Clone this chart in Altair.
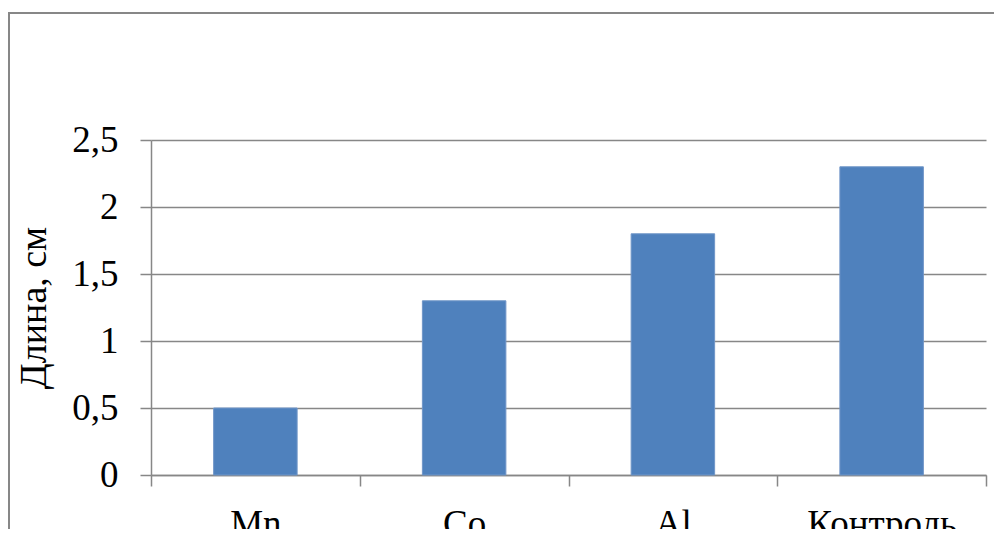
import altair as alt
import pandas as pd

categories = ["Mn", "Co", "Al", "Контроль"]
values = [0.5, 1.3, 1.8, 2.3]
y_ticks = [0, 0.5, 1, 1.5, 2, 2.5]

df = pd.DataFrame({"cat": categories, "val": values})
GRAY = "#878787"
FONT = "Liberation Serif"

frame = alt.Chart(pd.DataFrame({"a": [0]})).mark_rect(
    fill="white", fillOpacity=0, stroke=GRAY, strokeWidth=2
).encode(
    x=alt.value(-142), x2=alt.value(900), y=alt.value(-127), y2=alt.value(450)
)

bars = alt.Chart(df).mark_bar(
    color="#4F81BD", stroke="#7096c8", strokeWidth=1, width=alt.RelativeBandSize(0.4)
).encode(
    x=alt.X(
        "cat:N", sort=categories, title=None,
        scale=alt.Scale(paddingInner=0, paddingOuter=0),
        axis=alt.Axis(
            labelAngle=0, tickBand="extent", tickSize=11, tickColor=GRAY, tickWidth=1.5,
            domainColor=GRAY, domainWidth=1.5, labelFont=FONT, labelFontSize=37,
            labelColor="black", labelPadding=20, grid=False,
        ),
    ),
    y=alt.Y(
        "val:Q", title="Длина, см",
        scale=alt.Scale(domain=[0, 2.5], nice=False),
        axis=alt.Axis(
            values=y_ticks, labelExpr="replace(toString(datum.value), '.', ',')",
            tickSize=11, tickColor=GRAY, tickWidth=1.5, domainColor=GRAY, domainWidth=1.5,
            grid=True, gridColor=GRAY, gridWidth=1.5,
            labelFont=FONT, labelFontSize=37, labelColor="black", labelPadding=22,
            titleFont=FONT, titleFontSize=38, titleFontWeight="normal", titleColor="black",
            titlePadding=18,
        ),
    ),
)

chart = alt.layer(frame, bars).properties(
    width=835, height=335,
    autosize=alt.AutoSizeParams(type="none"),
    padding={"left": 143, "top": 132, "right": 8, "bottom": 54},
).configure_view(stroke=None)

chart.save("out.html", embed_options={"renderer": "svg", "actions": False})
